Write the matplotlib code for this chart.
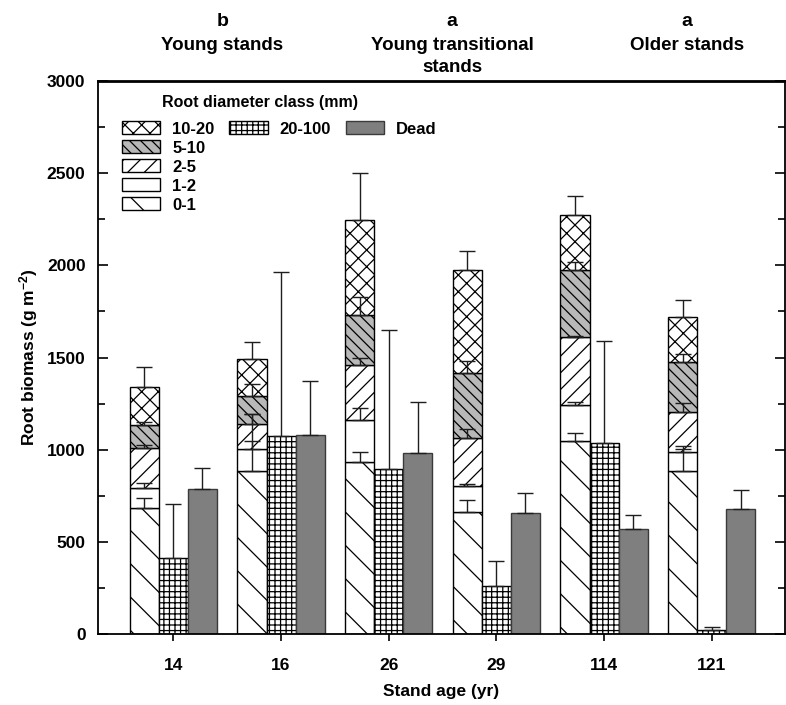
import numpy as np
import matplotlib
matplotlib.use('Agg')
from matplotlib import pyplot as plt
from matplotlib import patches as mpatches
from matplotlib import transforms as mtransforms
from matplotlib.ticker import MultipleLocator

# stand ages (x categories)
ages = ['14', '16', '26', '29', '114', '121']

# live root biomass per diameter class (g m-2), stacked bottom to top
d_0_1 = [681, 884, 933, 664, 1049, 884]
d_1_2 = [113, 118, 228, 139, 195, 105]
d_2_5 = [217, 135, 301, 258, 368, 217]
d_5_10 = [125, 153, 271, 356, 364, 271]
d_10_20 = [203, 203, 514, 559, 298, 243]

# upper error (SE) for each stacked class
e_0_1 = [59, 163, 56, 63, 41, 134]
e_1_2 = [24, 193, 67, 9, 16, 15]
e_2_5 = [12, 58, 36, 53, 5, 49]
e_5_10 = [14, 64, 94, 63, 44, 43]
e_10_20 = [108, 92, 255, 103, 103, 94]

# coarse roots 20-100 mm and dead roots
d_20_100 = [415, 1074, 897, 262, 1034, 22]
e_20_100 = [291, 892, 751, 135, 558, 18]
dead = [785, 1079, 980, 659, 569, 677]
e_dead = [118, 293, 280, 106, 79, 103]

group_letters = ['b', 'a', 'a']
group_names = ['Young stands', 'Young transitional\nstands', 'Older stands']

plt.rcParams['font.family'] = ['Liberation Sans', 'DejaVu Sans']
plt.rcParams['font.weight'] = 'bold'
plt.rcParams['mathtext.fontset'] = 'custom'
plt.rcParams['mathtext.rm'] = 'Liberation Sans:bold'
plt.rcParams['mathtext.default'] = 'rm'
plt.rcParams['hatch.linewidth'] = 0.9

stack_vals = [d_0_1, d_1_2, d_2_5, d_5_10, d_10_20]
stack_errs = [e_0_1, e_1_2, e_2_5, e_5_10, e_10_20]
stack_labels = ['0-1', '1-2', '2-5', '5-10', '10-20']
stack_styles = [
    dict(facecolor='white', hatch='\\'),
    dict(facecolor='white', hatch=''),
    dict(facecolor='white', hatch='//'),
    dict(facecolor='#b8b8b8', hatch='\\\\\\'),
    dict(facecolor='white', hatch='xx'),
]
coarse_style = dict(facecolor='white', hatch='+++')
dead_style = dict(facecolor='#7f7f7f', hatch='')

fig = plt.figure(figsize=(7.86, 7.05), dpi=100)
ax = fig.add_axes([0.1247, 0.1007, 0.874, 0.7844])

x = np.arange(len(ages))
w = 0.27

bottom = np.zeros(len(ages))
tops = []
for vals, lab, st in zip(stack_vals, stack_labels, stack_styles):
    vals = np.array(vals, dtype=float)
    ax.bar(x - w, vals, w, bottom=bottom, edgecolor='black', linewidth=1.0,
           label=lab, zorder=2, **st)
    bottom = bottom + vals
    tops.append(bottom.copy())

ax.bar(x, d_20_100, w, edgecolor='black', linewidth=1.0, zorder=2, **coarse_style)
ax.bar(x + w, dead, w, edgecolor='#3a3a3a', linewidth=1.0, zorder=2, **dead_style)

eb = dict(fmt='none', ecolor='#1e1e1e', elinewidth=1.0, capsize=6, capthick=1.0, zorder=5)
for top, err in zip(tops, stack_errs):
    ax.errorbar(x - w, top, yerr=[np.zeros(len(err)), err], **eb)
ax.errorbar(x, d_20_100, yerr=[np.zeros(len(ages)), e_20_100], **eb)
ax.errorbar(x + w, dead, yerr=[np.zeros(len(ages)), e_dead], **eb)

ax.set_xlim(-0.70, 5.68)
ax.set_ylim(0, 3000)
ax.set_xticks(x)
ax.set_xticklabels(ages)
ax.yaxis.set_major_locator(MultipleLocator(500))
ax.yaxis.set_minor_locator(MultipleLocator(250))
ax.tick_params(axis='y', which='both', direction='in', left=True, right=True, labelsize=12.5, pad=9)
ax.tick_params(axis='y', which='major', length=7, width=1.2)
ax.tick_params(axis='y', which='minor', length=5, width=1.2)
ax.tick_params(axis='x', direction='out', length=5, width=1.2, labelsize=12.5, pad=12)
for sp in ax.spines.values():
    sp.set_linewidth(1.3)
ax.spines['top'].set_linewidth(2.0)

ax.set_ylabel('Root biomass (g m$^{-2}$)', fontsize=12.5, fontweight='bold', labelpad=5)
ax.set_xlabel('Stand age (yr)', fontsize=12.5, fontweight='bold', labelpad=8)

# group headers above the axes, one text per line
trans = mtransforms.blended_transform_factory(ax.transData, ax.transAxes)
line_step = 22 / 553
for gx, letter, name in zip([0.455, 2.59, 4.77], group_letters, group_names):
    ax.text(gx, 1.0995, letter, transform=trans, ha='center', va='baseline', fontsize=14)
    for i, line in enumerate(name.split('\n')):
        ax.text(gx, 1.056 - i * line_step, line, transform=trans, ha='center',
                va='baseline', fontsize=13.5)

# legend: 3 columns, first one holds the stacked classes
def sw(st, ec='black'):
    return mpatches.Patch(edgecolor=ec, linewidth=1.0, **st)

blank = mpatches.Rectangle((0, 0), 1, 1, visible=False)
handles = [sw(s) for s in stack_styles[::-1]] + [sw(coarse_style)] + [blank] * 4 \
    + [sw(dead_style, '#3a3a3a')] + [blank] * 4
labels = stack_labels[::-1] + ['20-100'] + [''] * 4 + ['Dead'] + [''] * 4
leg = ax.legend(handles, labels, ncol=3, loc='upper left', bbox_to_anchor=(0.035, 0.927),
                frameon=False, fontsize=12,
                handlelength=2.3, handleheight=0.8, handletextpad=0.7,
                columnspacing=0.9, labelspacing=0.23, borderpad=0, borderaxespad=0)
ax.text(0.236, 0.961, 'Root diameter class (mm)', transform=ax.transAxes,
        ha='center', va='center', fontsize=11.5)

fig.savefig('out.png', dpi=100)
